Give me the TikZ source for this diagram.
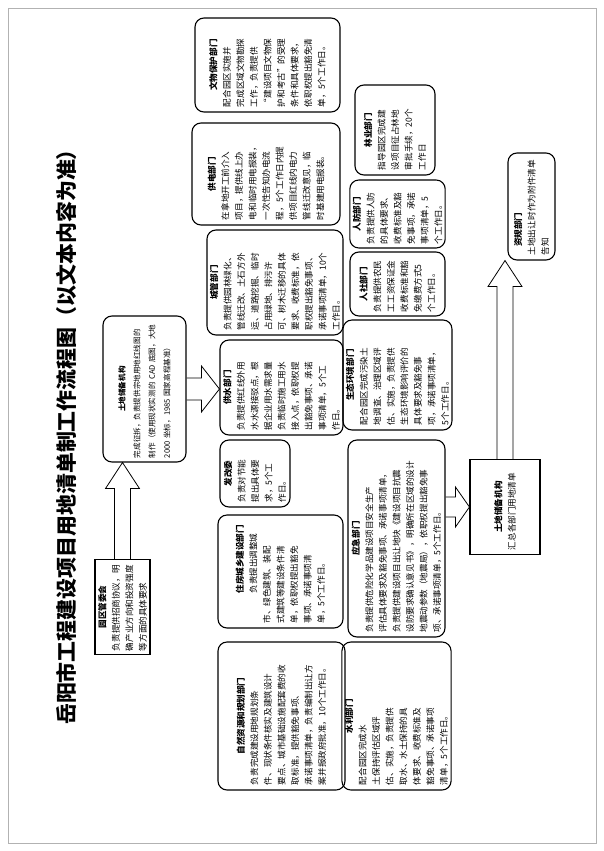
\documentclass[tikz,border=0pt]{standalone}
\usepackage{fontspec}
\setmainfont{Noto Sans CJK SC}
\XeTeXlinebreaklocale "zh"
\XeTeXlinebreakskip=0pt plus 1pt
\usetikzlibrary{arrows.meta,positioning,calc}
\newcommand{\deptname}[1]{\makebox[\linewidth][c]{\bfseries #1}}

\begin{document}
\begin{tikzpicture}[x=1bp,y=-1bp,
    dept/.style={draw, rounded corners=9bp, line width=1.1pt, rotate=90,
      align=left, inner sep=3bp, font=\fontsize{8.6}{13.6}\selectfont},
    flat/.style={dept, rounded corners=0pt}]
    \useasboundingbox (0,0) rectangle (604,851);
    \draw[gray!60] (8,8) rectangle (596,843);
    % title
    \node[rotate=90, font=\fontsize{21}{24}\selectfont\bfseries] (title) at (66,432)
      {岳阳市工程建设项目用地清单制工作流程图（以文本内容为准）};
    % park committee and land reserve
    \node[flat, minimum width=95bp, minimum height=55bp, text width=88bp] (yuanqu) at (122.5,607)
      {\deptname{园区管委会}\\负责提供招商协议，明\\确产业方向和投资强度\\等方面的具体要求};
    \node[dept, minimum width=146bp, minimum height=83bp, text width=138bp,
      font=\fontsize{7.6}{15}\selectfont] (tuchu1) at (144.5,389)
      {\deptname{土地储备机构}\\完成征拆，负责提供宗地用地红线图的\\制作（使用现状实测的 CAD 底图，大地\\2000 坐标，1985 国家高程基准）};
    % departments, first column
    \node[dept, minimum width=94bp, minimum height=145bp, text width=84bp] (wenwu) at (267.5,65)
      {\deptname{文物保护部门}\\配合园区实施并\\完成区域文物勘探\\工作，负责提供\\“建设项目文物保\\护和考古”的受理\\条件和具体要求，\\依职权提出豁免清\\单，5个工作日。};
    \node[dept, minimum width=102bp, minimum height=148bp, text width=92bp] (gongdian) at (266,174)
      {\deptname{供电部门}\\在拿地开工前介入\\项目，提供线上办\\电和临时用电报装，\\一次性告知办电流\\程，5个工作日内提\\供项目红线内电力\\管线迁改意见，临\\时基建用电报装。};
    \node[dept, minimum width=105bp, minimum height=136bp, text width=96bp] (chengguan) at (275,282.5)
      {\deptname{城管部门}\\负责提供园林绿化、\\管线迁改、土石方外\\运、道路挖掘、临时\\占用绿地、排污许\\可、树木迁移的具体\\要求、收费标准，依\\职权提出豁免事项、\\承诺事项清单，10个\\工作日。};
    \node[dept, minimum width=95bp, minimum height=123bp, text width=86bp] (gongshui) at (281.5,387.5)
      {\deptname{供水部门}\\负责提供红线外用\\水水源接驳点，根\\据企业用水需求量\\负责临时施工用水\\接入点，依职权提\\出豁免事项、承诺\\事项清单，5个工\\作日。};
    \node[dept, minimum width=67bp, minimum height=70bp, text width=58bp] (fagai) at (255,473.5)
      {\deptname{发改委}\\负责对节能\\提出具体要\\求，5个工\\作日。};
    \node[dept, minimum width=113bp, minimum height=125bp, text width=104bp] (zhufang) at (280.5,571.5)
      {\hspace*{3.5em}{\bfseries 住房城乡建设部门}\\\hspace*{3.5em}负责提出调整城\\市、绿色建筑、装配\\式建筑等建设条件清\\单，依职权提出豁免\\事项、承诺事项清\\单，5个工作日。};
    \node[dept, minimum width=148bp, minimum height=127bp, text width=138bp] (ziran) at (281.5,716)
      {\deptname{自然资源和规划部门}\\负责完成建设用地规划条\\件、现状条件核实及建筑设计\\要点、城市基础设施配套费的收\\取标准，提供豁免事项、\\承诺事项清单，负责编制出让方\\案并报政府批准，10个工作日。};
    % departments, second column
    \node[dept, minimum width=90bp, minimum height=80bp, text width=80bp] (linye) at (395,130)
      {\deptname{林业部门}\\指导园区完成建\\设项目征占林地\\审批手续，20个\\工作日};
    \node[dept, minimum width=68bp, minimum height=95bp, text width=60bp] (renfang) at (397.5,214)
      {\deptname{人防部门}\\负责提供人防\\的具体要求、\\收费标准及豁\\免事项，承诺\\事项清单，5\\个工作日。};
    \node[dept, minimum width=64bp, minimum height=95bp, text width=56bp] (renshe) at (397.5,284)
      {\deptname{人社部门}\\负责提供农民\\工工资保证金\\收费标准和豁\\免缴费方式5\\个工作日。};
    \node[dept, minimum width=110bp, minimum height=95bp, text width=100bp] (shengtai) at (397.5,375)
      {\deptname{生态环境部门}\\配合园区完成污染土\\地调查、治理区域评\\估、实施，负责提供\\生态环境影响评价的\\具体要求及豁免事\\项，承诺事项清单，\\5个工作日。};
    \node[dept, minimum width=197bp, minimum height=97bp, text width=188bp] (yingji) at (396.5,538.5)
      {\deptname{应急部门}\\负责提供危险化学品建设项目安全生产\\评估具体要求及豁免事项、承诺事项清单，\\负责提供建设项目出让地块《建设项目抗震\\设防要求确认意见书》，明确所在区域的设计\\地震动参数（地震局），依职权提出豁免事\\项、承诺事项清单，5个工作日。};
    \node[dept, minimum width=148bp, minimum height=97bp, text width=138bp] (shuili) at (396.5,716)
      {\deptname{水利部门}\\配合园区完成水\\土保持评估区域评\\估、实施，负责提供\\取水、水土保持的具\\体要求、收费标准及\\豁免事项、承诺事项\\清单，5个工作日。};
    % summary and planning
    \node[flat, minimum width=95bp, minimum height=70bp, text width=86bp] (tuchu2) at (505,507)
      {\deptname{土地储备机构}\\汇总各部门用地清单};
    \node[dept, minimum width=107bp, minimum height=47bp, text width=98bp] (zigui) at (531.5,206.5)
      {\hspace*{1em}{\bfseries 资规部门}\\土地出让时作为附件清单告知};
    % hollow arrows
    \draw[thick] ($(yuanqu.east)+(-8,0)$) -- ($(yuanqu.east |- tuchu1.west)+(-8,26)$) -- ++(-9,0)
      -- (yuanqu.east |- tuchu1.west) -- ++(17,26) -- ++(-9,0) -- ($(yuanqu.east)+(8,0)$);
    \draw[thick] ($(tuchu1.south)+(0,-11)$) -- ($(gongshui.north |- tuchu1.south)+(-18,-11)$) -- ++(0,-12)
      -- (gongshui.north |- tuchu1.south) -- ++(-18,23) -- ++(0,-12) -- ($(tuchu1.south)+(0,11)$);
    \draw[thick] ($(yingji.south |- tuchu2.north)+(0,-10)$) -- ($(tuchu2.north)+(-14,-10)$) -- ++(0,-10)
      -- (tuchu2.north) -- ++(-14,20) -- ++(0,-10) -- ($(yingji.south |- tuchu2.north)+(0,10)$);
    \draw[thick] ($(tuchu2.east)+(-8,0)$) -- ($(tuchu2.east |- zigui.west)+(-8,26)$) -- ++(-9,0)
      -- (tuchu2.east |- zigui.west) -- ++(17,26) -- ++(-9,0) -- ($(tuchu2.east)+(8,0)$);
\end{tikzpicture}
\end{document}
